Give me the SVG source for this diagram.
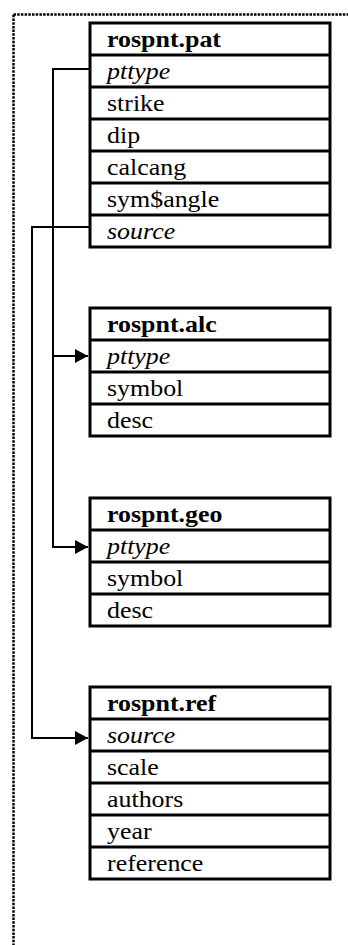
<svg xmlns="http://www.w3.org/2000/svg" width="348" height="945" viewBox="0 0 348 945">
<style>
.frame{fill:none;stroke:#000;stroke-width:2.5;stroke-dasharray:2.5 1.2}
.box{fill:#fff;stroke:#000;stroke-width:3}
.sep{stroke:#000;stroke-width:3}
.lnk{fill:none;stroke:#000;stroke-width:2}
text{font-family:"Liberation Serif","Times New Roman",serif;font-size:24px;fill:#000}
.h{font-weight:bold}
.k{font-style:italic}
</style>
<defs>
<marker id="ah" markerUnits="userSpaceOnUse" markerWidth="14" markerHeight="14" refX="13" refY="7" orient="auto">
<path d="M0,0 L13,7 L0,14 Z" fill="#000"/>
</marker>
</defs>
<rect class="frame" x="13.5" y="14.5" width="400" height="1000"/>
<g id="connectors">
<path class="lnk" d="M90,69 H53 V356 H88" marker-end="url(#ah)"/>
<path class="lnk" d="M53,356 V547 H88" marker-end="url(#ah)"/>
<path class="lnk" d="M90,227 H32 V738 H88" marker-end="url(#ah)"/>
</g>
<g id="rospnt_pat">
<rect class="box" x="90" y="23" width="240" height="224"/>
<path class="sep" d="M90,55H330M90,87H330M90,119H330M90,151H330M90,183H330M90,215H330"/>
<g transform="scale(1.08 1)">
<text class="h" x="99.1" y="47">rospnt.pat</text>
<text class="k" x="99.1" y="79">pttype</text>
<text x="99.1" y="111">strike</text>
<text x="99.1" y="143">dip</text>
<text x="99.1" y="175">calcang</text>
<text x="99.1" y="207">sym$angle</text>
<text class="k" x="99.1" y="239">source</text>
</g>
</g>
<g id="rospnt_alc">
<rect class="box" x="90" y="308" width="240" height="128"/>
<path class="sep" d="M90,340H330M90,372H330M90,404H330"/>
<g transform="scale(1.08 1)">
<text class="h" x="99.1" y="332">rospnt.alc</text>
<text class="k" x="99.1" y="364">pttype</text>
<text x="99.1" y="396">symbol</text>
<text x="99.1" y="428">desc</text>
</g>
</g>
<g id="rospnt_geo">
<rect class="box" x="90" y="498" width="240" height="128"/>
<path class="sep" d="M90,530H330M90,562H330M90,594H330"/>
<g transform="scale(1.08 1)">
<text class="h" x="99.1" y="522">rospnt.geo</text>
<text class="k" x="99.1" y="554">pttype</text>
<text x="99.1" y="586">symbol</text>
<text x="99.1" y="618">desc</text>
</g>
</g>
<g id="rospnt_ref">
<rect class="box" x="90" y="687" width="240" height="192"/>
<path class="sep" d="M90,719H330M90,751H330M90,783H330M90,815H330M90,847H330"/>
<g transform="scale(1.08 1)">
<text class="h" x="99.1" y="711">rospnt.ref</text>
<text class="k" x="99.1" y="743">source</text>
<text x="99.1" y="775">scale</text>
<text x="99.1" y="807">authors</text>
<text x="99.1" y="839">year</text>
<text x="99.1" y="871">reference</text>
</g>
</g>
</svg>
